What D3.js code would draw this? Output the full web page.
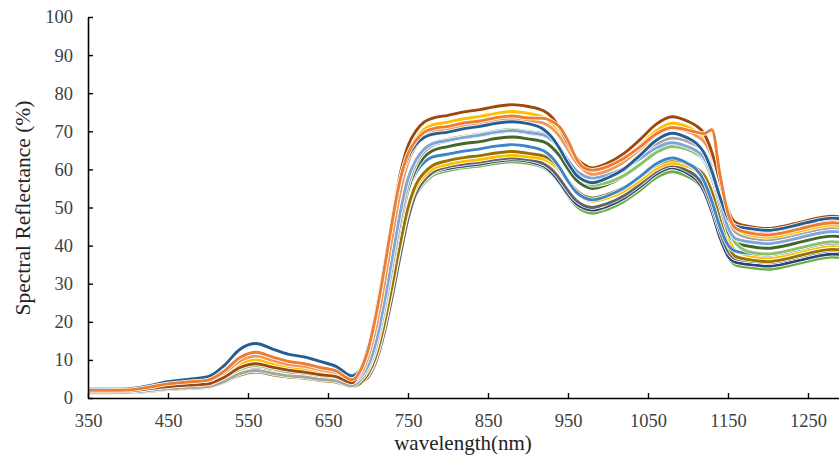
<!DOCTYPE html>
<html lang="en">
<head>
<meta charset="utf-8">
<title>Spectral reflectance</title>
<script src="https://d3js.org/d3.v7.min.js"></script>
<style>
  body { margin: 0; background: #fff; }
  svg text { font-family: "Liberation Serif", "Times New Roman", serif; }
</style>
</head>
<body>
<svg id="chart" width="839" height="457"></svg>
<script>
// wavelengths (nm)
var wavelengths = [350,375,400,425,450,475,500,520,540,560,580,600,620,640,660,680,
  690,700,710,720,730,740,750,760,770,780,800,820,840,860,880,900,920,
  930,940,950,960,970,980,1000,1020,1040,1060,1080,1100,
  1110,1120,1130,1140,1150,1160,1180,1200,1220,1240,1260,1280,1300];

// reflectance (%) per sample, one array per curve
var green = [1.3,1.3,1.4,1.8,2.3,2.6,2.8,4.2,6.2,7.0,6.3,5.6,5.3,4.7,4.3,3.0,
  3.8,5.6,9.9,17.4,27.0,37.5,47.1,53.3,56.4,58.3,59.7,60.5,60.9,61.6,62.0,61.6,60.4,
  58.8,56.2,53.1,50.5,49.0,48.5,49.6,51.6,54.5,57.8,59.4,58.1,
  56.8,54.3,49.2,42.6,37.1,34.9,34.2,33.8,34.4,35.4,36.4,37.0,36.6];
var navy = [1.5,1.5,1.6,2.0,2.6,2.9,3.3,4.8,7.1,8.0,7.2,6.4,6.1,5.4,4.9,3.5,
  4.4,6.0,10.6,18.4,28.3,38.9,48.3,54.1,57.1,58.9,60.2,60.9,61.4,62.1,62.5,62.1,60.8,
  59.1,56.5,53.5,51.1,49.8,49.3,50.4,52.4,55.4,58.7,60.4,58.9,
  57.4,54.3,48.8,42.1,37.3,35.6,35.0,34.6,35.2,36.2,37.2,37.8,37.4];
var darkGray = [1.4,1.4,1.5,1.9,2.4,2.7,3.0,4.5,6.6,7.5,6.8,6.0,5.7,5.1,4.6,3.3,
  4.1,5.4,9.6,16.8,26.3,37.0,47.0,53.7,57.1,59.1,60.7,61.4,61.9,62.6,63.0,62.6,61.4,
  59.9,57.4,54.4,51.9,50.5,50.0,51.1,53.1,56.1,59.4,61.0,59.6,
  58.2,55.4,50.2,43.6,38.5,36.5,35.9,35.5,36.1,37.1,38.1,38.7,38.3];
var gold2 = [1.5,1.5,1.6,2.1,2.7,3.1,3.5,5.2,7.8,8.8,7.9,7.0,6.6,5.9,5.4,3.8,
  4.8,6.1,10.8,18.7,28.8,39.6,49.2,55.2,58.2,60.0,61.3,62.1,62.6,63.3,63.7,63.3,62.6,
  61.5,59.5,56.7,54.1,52.4,51.6,52.5,54.3,57.1,60.1,61.6,60.7,
  59.8,58.2,54.5,48.5,42.1,38.6,37.2,36.8,37.4,38.4,39.4,40.0,39.6];
var olive = [1.3,1.3,1.4,1.7,2.2,2.5,2.8,4.1,6.0,6.8,6.1,5.5,5.2,4.6,4.2,3.0,
  3.8,6.2,11.0,19.0,29.2,40.2,49.9,56.0,59.1,60.9,62.3,63.1,63.6,64.3,64.7,64.2,63.5,
  62.3,60.1,57.1,54.6,53.1,52.5,53.5,55.3,58.0,61.0,62.5,61.4,
  60.4,58.5,54.0,47.0,40.1,37.1,36.2,35.8,36.4,37.4,38.4,39.0,38.6];
var blue = [2.0,2.0,2.1,2.6,3.3,3.7,4.1,5.9,8.7,9.8,8.9,7.9,7.5,6.7,6.1,4.4,
  5.5,8.0,14.0,23.3,34.6,45.9,54.5,59.2,61.8,63.2,64.0,64.8,65.4,66.1,66.5,66.0,64.8,
  63.1,60.3,56.9,54.1,52.6,52.0,53.1,55.1,58.1,61.4,63.0,61.5,
  60.1,57.0,51.5,44.9,40.2,38.5,37.9,37.5,38.1,39.1,40.1,40.7,40.3];
var darkGreen = [1.6,1.6,1.7,2.3,3.1,3.6,4.0,6.1,9.3,10.5,9.4,8.4,7.8,6.9,6.1,4.0,
  5.0,7.4,13.0,22.1,33.3,44.9,54.5,60.1,63.2,64.8,66.0,66.8,67.3,68.1,68.5,68.0,67.2,
  65.8,63.4,60.1,57.3,55.7,55.0,56.1,58.2,61.2,64.6,66.3,65.2,
  64.1,62.3,57.7,50.6,43.6,40.7,39.7,39.3,39.9,40.9,41.9,42.5,42.1];
var lightGreen = [1.6,1.6,1.7,2.2,2.8,3.1,3.5,5.1,7.5,8.5,7.7,6.8,6.4,5.7,5.1,3.5,
  4.7,7.9,14.1,23.7,35.5,47.4,57.0,62.3,65.3,66.8,67.9,68.7,69.3,70.1,70.5,70.0,69.4,
  68.1,65.9,62.6,59.3,57.0,55.8,56.6,58.4,61.3,64.4,66.0,65.2,
  64.2,62.6,58.9,52.6,45.2,40.5,38.2,37.8,38.4,39.4,40.4,41.0,40.6];
var gray = [1.4,1.4,1.5,1.9,2.4,2.7,3.0,4.3,6.4,7.2,6.5,5.8,5.5,4.9,4.5,3.2,
  4.5,7.6,13.3,22.5,34.0,45.9,55.7,61.5,64.5,66.2,67.4,68.3,68.8,69.6,70.0,69.5,68.8,
  67.6,65.4,62.3,59.4,57.5,56.6,57.7,59.8,62.9,66.4,68.2,67.3,
  66.3,64.6,60.6,54.1,47.2,43.4,41.9,41.5,42.1,43.1,44.1,44.7,44.3];
var lightBlue = [1.8,1.8,1.9,2.4,3.1,3.5,3.9,5.7,8.4,9.5,8.6,7.7,7.2,6.4,5.9,4.2,
  5.3,8.4,14.7,24.6,36.5,48.4,57.6,62.5,65.3,66.7,67.6,68.4,69.0,69.8,70.2,69.7,69.0,
  67.7,65.5,62.5,59.8,58.3,57.7,58.6,60.3,62.8,65.6,67.0,65.9,
  64.9,63.0,58.5,51.6,44.7,41.8,40.9,40.5,41.1,42.1,43.1,43.7,43.3];
var gold = [1.9,1.9,2.0,2.5,3.3,3.7,4.1,5.9,8.9,10.0,9.0,8.1,7.6,6.8,6.1,4.3,
  6.5,11.4,20.0,31.4,44.2,56.1,64.1,68.1,70.5,71.6,72.4,73.3,73.9,74.7,75.2,74.7,73.6,
  72.0,69.0,65.2,61.8,59.8,59.0,60.3,62.7,66.2,70.1,72.1,71.1,
  69.9,68.0,63.5,56.3,48.5,44.4,42.6,42.2,42.8,43.8,44.8,45.4,45.0];
var peach = [1.9,1.9,2.0,2.6,3.4,3.9,4.4,6.5,9.7,11.0,9.9,8.8,8.3,7.4,6.6,4.5,
  6.0,10.6,18.5,29.4,41.9,53.7,61.9,66.1,68.6,69.7,70.6,71.5,72.1,72.9,73.3,72.8,72.1,
  70.8,68.5,65.2,61.9,59.8,58.7,59.7,62.0,65.3,69.0,70.8,69.9,
  68.9,67.3,63.4,57.0,49.8,45.6,43.7,43.3,43.9,44.9,45.9,46.5,46.1];
var brown = [1.8,1.8,1.9,2.4,3.0,3.4,3.7,5.4,8.0,9.0,8.1,7.3,6.8,6.1,5.6,4.0,
  6.9,12.3,21.6,33.5,46.6,58.5,66.2,70.1,72.4,73.4,74.2,75.1,75.7,76.5,77.0,76.5,75.3,
  73.7,70.7,66.7,63.2,61.2,60.4,61.7,64.2,67.8,71.8,73.8,72.6,
  71.5,69.4,64.4,56.8,49.2,46.0,44.9,44.5,45.1,46.1,47.1,47.7,47.3];
var steel = [2.3,2.3,2.4,3.2,4.3,4.9,5.6,8.5,12.8,14.3,12.9,11.5,10.8,9.6,8.3,5.8,
  7.4,13.1,22.3,34.0,46.3,56.8,63.2,66.6,68.4,69.2,69.8,70.7,71.3,72.1,72.5,72.0,70.4,
  68.4,65.3,61.6,58.6,57.1,56.5,57.8,60.1,63.7,67.6,69.5,68.2,
  66.9,64.4,59.4,52.7,47.2,45.1,44.4,44.0,44.6,45.6,46.6,47.2,46.8];
var orange = [2.0,2.0,2.1,2.8,3.7,4.2,4.7,7.0,10.6,12.0,10.8,9.6,9.0,8.0,7.1,4.8,
  7.0,12.6,21.8,33.4,46.0,57.1,64.1,67.6,69.7,70.6,71.3,72.2,72.7,73.6,74.0,73.5,73.4,
  72.6,71.0,67.5,63.0,60.4,59.8,60.8,62.9,65.9,69.3,71.0,70.3,
  69.8,69.4,70.4,58.5,48.5,44.5,43.2,42.8,43.4,44.4,45.4,46.0,45.6];

var series = [green, navy, darkGray, gold2, olive, blue, darkGreen, lightGreen,
  gray, lightBlue, gold, peach, brown, steel, orange];
var colors = ["#70AD47", "#264478", "#636363", "#FFC000", "#997300", "#3D85C6", "#43682B", "#8CC168",
  "#A5A5A5", "#7EA6DB", "#FFC000", "#F1975A", "#9E480E", "#255E91", "#ED7D31"];

var xTicks = d3.range(350, 1251, 100);
var yTicks = d3.range(0, 101, 10);

var svg = d3.select("#chart");

var x = d3.scaleLinear().domain([350, 1300]).range([88, 848]);
var y = d3.scaleLinear().domain([0, 100]).range([398, 17]);

var line = d3.line()
    .curve(d3.curveMonotoneX)
    .x(function(d, i) { return x(wavelengths[i]); })
    .y(function(d) { return y(d); });

var lines = svg.append("g");
series.forEach(function(s, i) {
  lines.append("path")
      .datum(s)
      .attr("d", line)
      .attr("fill", "none")
      .attr("stroke", "#fff")
      .attr("stroke-width", 4.4)
      .attr("stroke-linejoin", "round");
  lines.append("path")
      .datum(s)
      .attr("d", line)
      .attr("fill", "none")
      .attr("stroke", colors[i])
      .attr("stroke-width", 2.9)
      .attr("stroke-linejoin", "round");
});

var xAxis = svg.append("g")
    .attr("transform", "translate(0,398)")
    .call(d3.axisBottom(x).tickValues(xTicks).tickFormat(d3.format("d"))
      .tickSizeInner(-5).tickSizeOuter(0).tickPadding(16));
var yAxis = svg.append("g")
    .attr("transform", "translate(88,0)")
    .call(d3.axisLeft(y).tickValues(yTicks).tickFormat(d3.format("d"))
      .tickSizeInner(-5).tickSizeOuter(0).tickPadding(15));

[xAxis, yAxis].forEach(function(g) {
  g.select(".domain").attr("stroke", "#000").attr("stroke-width", 1.6);
  g.selectAll(".tick line").attr("stroke", "#000").attr("stroke-width", 1.4);
  g.selectAll(".tick text")
      .attr("fill", "#404040")
      .style("font-size", "18.5px")
      .style("font-family", "'Liberation Serif', 'Times New Roman', serif");
});

svg.append("text")
    .attr("x", 463)
    .attr("y", 450)
    .attr("text-anchor", "middle")
    .attr("fill", "#222")
    .style("font-size", "21px")
    .text("wavelength(nm)");

svg.append("text")
    .attr("transform", "translate(30,208) rotate(-90)")
    .attr("text-anchor", "middle")
    .attr("fill", "#222")
    .style("font-size", "21.5px")
    .text("Spectral Reflectance (%)");
</script>
</body>
</html>
